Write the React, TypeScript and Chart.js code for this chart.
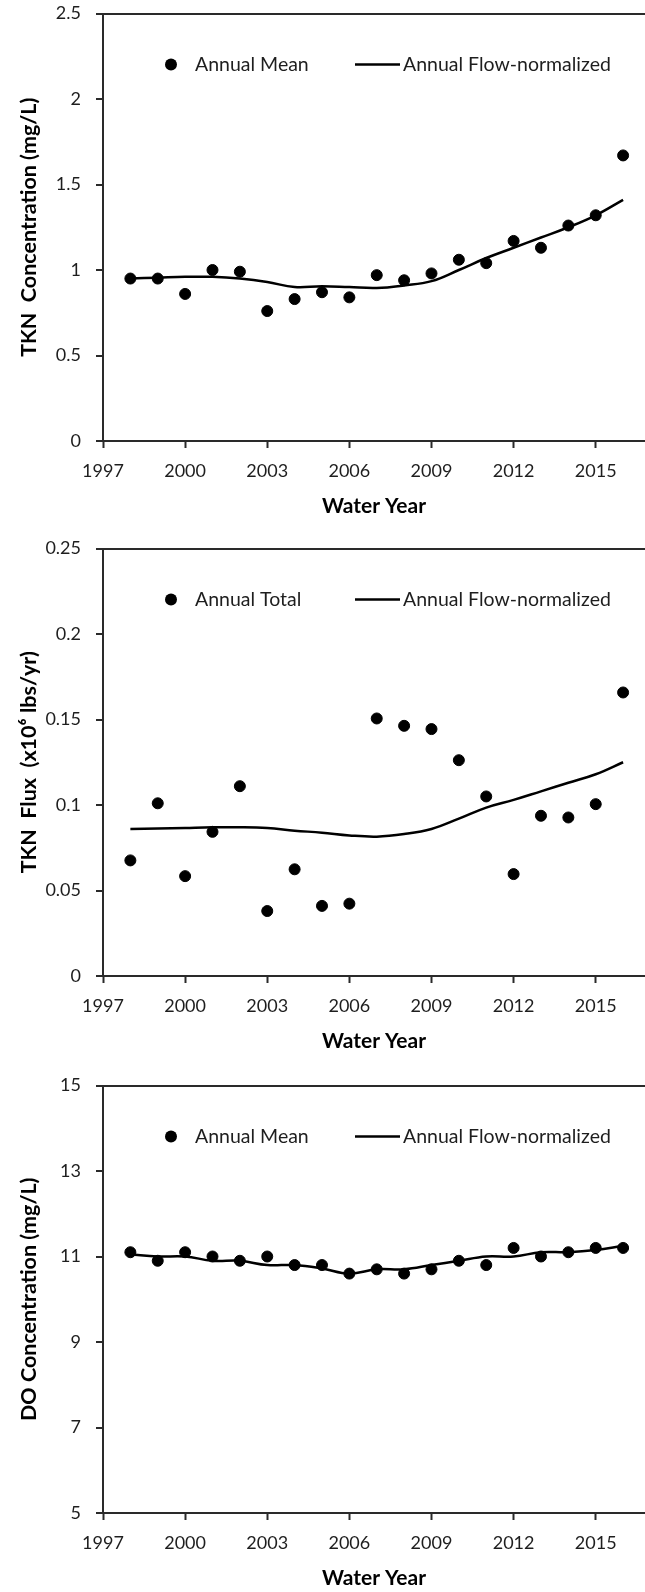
import React, { useEffect, useRef } from "react";
import { Chart, registerables } from "chart.js";

Chart.register(...registerables);

// ---------- data ----------
const years = [1998, 1999, 2000, 2001, 2002, 2003, 2004, 2005, 2006, 2007, 2008, 2009, 2010, 2011, 2012, 2013, 2014, 2015, 2016];
const xTicks = [1997, 2000, 2003, 2006, 2009, 2012, 2015];
const xMin = 1997;
const xMax = 2016.8;
const xTitle = "Water Year";

const tknConcMean = [0.95, 0.95, 0.86, 1.0, 0.99, 0.76, 0.83, 0.87, 0.84, 0.97, 0.94, 0.98, 1.06, 1.04, 1.17, 1.13, 1.26, 1.32, 1.67];
const tknConcFlow = [0.95, 0.955, 0.96, 0.96, 0.95, 0.93, 0.90, 0.905, 0.90, 0.895, 0.91, 0.935, 1.0, 1.07, 1.13, 1.19, 1.25, 1.32, 1.41];
const tknConcTicks = [0, 0.5, 1, 1.5, 2, 2.5];

const tknFluxTotal = [0.0676, 0.101, 0.0584, 0.0843, 0.111, 0.038, 0.0624, 0.041, 0.0423, 0.1506, 0.1463, 0.1444, 0.1262, 0.105, 0.0596, 0.0937, 0.0927, 0.1005, 0.1658];
const tknFluxFlow = [0.086, 0.0862, 0.0866, 0.087, 0.087, 0.0865, 0.085, 0.0838, 0.0822, 0.0815, 0.083, 0.086, 0.092, 0.0985, 0.103, 0.108, 0.113, 0.118, 0.125];
const tknFluxTicks = [0, 0.05, 0.1, 0.15, 0.2, 0.25];

const doMean = [11.1, 10.9, 11.1, 11.0, 10.9, 11.0, 10.8, 10.8, 10.6, 10.7, 10.6, 10.7, 10.9, 10.8, 11.2, 11.0, 11.1, 11.2, 11.2];
const doFlow = [11.05, 11.0, 11.0, 10.9, 10.9, 10.8, 10.8, 10.72, 10.6, 10.7, 10.7, 10.8, 10.9, 11.0, 11.0, 11.1, 11.1, 11.15, 11.25];
const doTicks = [5, 7, 9, 11, 13, 15];

// ---------- styles ----------
const AXIS = "#2a2a2a";
const TEXT = "#1e1e1e";
const FONT = "Lato";

const insideLegend = {
  id: "insideLegend",
  afterDatasetsDraw(chart: any) {
    const { ctx, chartArea } = chart;
    const ds = chart.data.datasets;
    const left = chartArea.left;
    const y = chartArea.top + 51;
    ctx.save();
    ctx.fillStyle = "#000";
    ctx.beginPath();
    ctx.arc(left + 68, y, 6, 0, Math.PI * 2);
    ctx.fill();
    ctx.font = `19.5px ${FONT}`;
    ctx.fillStyle = TEXT;
    ctx.textBaseline = "middle";
    ctx.textAlign = "left";
    ctx.fillText(ds[0].label, left + 92, y);
    ctx.strokeStyle = "#000";
    ctx.lineWidth = 2.5;
    ctx.beginPath();
    ctx.moveTo(left + 252, y);
    ctx.lineTo(left + 297, y);
    ctx.stroke();
    ctx.fillText(ds[1].label, left + 300, y);
    ctx.restore();
  },
};

type PanelProps = {
  top: number;
  yTitle: string;
  pointLabel: string;
  lineLabel: string;
  points: number[];
  line: number[];
  yTicks: number[];
};

function Panel({ top, yTitle, pointLabel, lineLabel, points, line, yTicks }: PanelProps) {
  const ref = useRef<HTMLCanvasElement | null>(null);
  useEffect(() => {
    if (!ref.current) return;
    const yMin = yTicks[0];
    const yMax = yTicks[yTicks.length - 1];
    const chart = new Chart(ref.current, {
      type: "scatter",
      data: {
        datasets: [
          {
            label: pointLabel,
            data: years.map((x, i) => ({ x, y: points[i] })),
            showLine: false,
            pointRadius: 5.5,
            pointBorderWidth: 1,
            pointBackgroundColor: "#000",
            pointBorderColor: "#000",
            order: 0,
          },
          {
            label: lineLabel,
            data: years.map((x, i) => ({ x, y: line[i] })),
            showLine: true,
            pointRadius: 0,
            borderColor: "#000",
            borderWidth: 2.5,
            tension: 0.4,
            order: 1,
          },
        ],
      },
      options: {
        responsive: false,
        animation: false,
        devicePixelRatio: 1,
        layout: { autoPadding: false, padding: { top: 13.5, left: 0, right: 0, bottom: 0 } },
        plugins: { legend: { display: false }, tooltip: { enabled: false } },
        scales: {
          x: {
            type: "linear",
            min: xMin,
            max: xMax,
            afterBuildTicks: (s: any) => {
              s.ticks = xTicks.map((v) => ({ value: v }));
            },
            afterFit: (s: any) => {
              s.height = 94;
              s.paddingLeft = 0;
              s.paddingRight = 0;
            },
            grid: {
              display: true,
              drawOnChartArea: false,
              drawTicks: true,
              tickLength: 7,
              tickColor: AXIS,
              tickWidth: 2,
            },
            border: { display: true, color: AXIS, width: 2 },
            ticks: {
              color: TEXT,
              font: { family: FONT, size: 18 },
              padding: 12,
              maxRotation: 0,
              autoSkip: false,
              callback: (v: any) => String(v),
            },
            title: {
              display: true,
              text: xTitle,
              color: "#000",
              font: { family: FONT, size: 21, weight: "bold" },
              padding: { top: 0, bottom: 16 },
            },
          },
          y: {
            type: "linear",
            min: yMin,
            max: yMax,
            afterBuildTicks: (s: any) => {
              s.ticks = yTicks.map((v) => ({ value: v }));
            },
            afterFit: (s: any) => {
              s.width = 103;
              s.paddingTop = 0;
              s.paddingBottom = 0;
            },
            grid: {
              display: true,
              drawOnChartArea: true,
              drawTicks: true,
              tickLength: 7,
              lineWidth: 2,
              tickWidth: 2,
              tickColor: AXIS,
              color: (c: any) => (c.tick && c.tick.value === yMax ? AXIS : "rgba(0,0,0,0)"),
            },
            border: { display: true, color: AXIS, width: 2 },
            ticks: {
              color: TEXT,
              font: { family: FONT, size: 18 },
              padding: 15,
              autoSkip: false,
              callback: (v: any) => String(v),
            },
            title: {
              display: true,
              text: yTitle,
              color: "#000",
              font: { family: FONT, size: 21.5, weight: "bold" },
              padding: { top: 16, bottom: 0 },
            },
          },
        },
      },
      plugins: [insideLegend],
    } as any);
    return () => chart.destroy();
  }, []);
  return (
    <canvas
      ref={ref}
      width={645}
      height={535}
      style={{ position: "absolute", left: 0, top, width: 645, height: 535, display: "block" }}
    />
  );
}

export default function App() {
  return (
    <div
      style={{
        position: "absolute",
        left: 0,
        top: 0,
        width: 645,
        height: 1592,
        overflow: "hidden",
        background: "#fff",
      }}
    >
      <Panel
        top={0}
        yTitle="TKN  Concentration (mg/L)"
        pointLabel="Annual Mean"
        lineLabel="Annual Flow-normalized"
        points={tknConcMean}
        line={tknConcFlow}
        yTicks={tknConcTicks}
      />
      <Panel
        top={535}
        yTitle="TKN  Flux  (x10⁶ lbs/yr)"
        pointLabel="Annual Total"
        lineLabel="Annual Flow-normalized"
        points={tknFluxTotal}
        line={tknFluxFlow}
        yTicks={tknFluxTicks}
      />
      <Panel
        top={1072}
        yTitle="DO Concentration (mg/L)"
        pointLabel="Annual Mean"
        lineLabel="Annual Flow-normalized"
        points={doMean}
        line={doFlow}
        yTicks={doTicks}
      />
    </div>
  );
}
